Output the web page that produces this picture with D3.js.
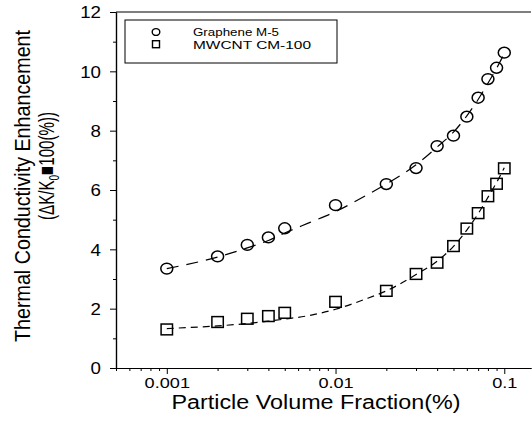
<!DOCTYPE html>
<html>
<head>
<meta charset="utf-8">
<script src="https://cdn.jsdelivr.net/npm/d3@7"></script>
<style>
  body { margin: 0; background: #fff; }
  text { font-family: "Liberation Sans", Arial, sans-serif; fill: #000; }
</style>
</head>
<body>
<svg id="chart" width="532" height="428"></svg>
<script>
// measured points (volume fraction %, enhancement %)
const fractions = [0.001, 0.002, 0.003, 0.004, 0.005, 0.01, 0.02, 0.03, 0.04, 0.05, 0.06, 0.07, 0.08, 0.09, 0.1];
const grapheneValues = [3.35, 3.76, 4.15, 4.40, 4.71, 5.49, 6.20, 6.74, 7.48, 7.83, 8.47, 9.11, 9.74, 10.12, 10.63];
const mwcntValues = [1.30, 1.55, 1.66, 1.75, 1.86, 2.23, 2.60, 3.17, 3.55, 4.11, 4.70, 5.22, 5.79, 6.21, 6.73];

// fitted curves
const fitFractions = [0.001, 0.002, 0.003, 0.004, 0.005, 0.007, 0.01, 0.015, 0.02, 0.03, 0.04, 0.05, 0.06, 0.07, 0.08, 0.09, 0.1];
const grapheneFit = [3.35, 3.74, 4.05, 4.30, 4.55, 4.90, 5.27, 5.80, 6.20, 6.85, 7.45, 7.95, 8.50, 9.05, 9.60, 10.10, 10.60];
const mwcntFit = [1.33, 1.42, 1.50, 1.58, 1.65, 1.77, 1.98, 2.32, 2.60, 3.15, 3.60, 4.10, 4.65, 5.20, 5.75, 6.25, 6.75];

const seriesNames = ["Graphene M-5", "MWCNT CM-100"];
const xMajorTicks = [0.001, 0.01, 0.1];
const xTickLabels = ["0.001", "0.01", "0.1"];
const yMajorTicks = [0, 2, 4, 6, 8, 10, 12];
const yMinorTicks = [1, 3, 5, 7, 9, 11];

const width = 532, height = 428;
const margin = { top: 12, right: 1, bottom: 60, left: 116 };
const sx = 1.17; // the original is a bit wider than tall

const svg = d3.select("#chart");

const x = d3.scaleLog()
  .domain([0.0005, 0.144])
  .range([margin.left, width - margin.right]);

const y = d3.scaleLinear()
  .domain([0, 12])
  .range([height - margin.bottom, margin.top]);

const xMinorTicks = x.ticks().filter(t => !xMajorTicks.some(m => Math.abs(m - t) < 1e-9));

// frame top line
svg.append("line")
  .attr("x1", margin.left).attr("x2", width - margin.right)
  .attr("y1", y(12)).attr("y2", y(12))
  .attr("stroke", "#000").attr("stroke-width", 1.2);

// x axis: minor then major
const xAxisG = svg.append("g").attr("transform", `translate(0,${y(0)})`);
xAxisG.append("g")
  .call(d3.axisBottom(x).tickValues(xMinorTicks).tickSize(3).tickSizeOuter(0).tickFormat(""));
xAxisG.append("g")
  .call(d3.axisBottom(x).tickValues(xMajorTicks).tickSize(6).tickSizeOuter(0)
    .tickFormat((d, i) => xTickLabels[i]));
xAxisG.selectAll("text")
  .attr("y", 0).attr("dy", null)
  .attr("transform", `translate(0,20) scale(${sx},1)`)
  .attr("font-size", 15.5)
  .attr("font-family", null);

// y axis
const yAxisG = svg.append("g").attr("transform", `translate(${margin.left},0)`);
yAxisG.append("g")
  .call(d3.axisLeft(y).tickValues(yMinorTicks).tickSize(3).tickSizeOuter(0).tickFormat(""));
yAxisG.append("g")
  .call(d3.axisLeft(y).tickValues(yMajorTicks).tickSize(6).tickSizeOuter(0).tickFormat(d3.format("d")));
yAxisG.selectAll("text")
  .attr("x", 0).attr("dy", "0.36em")
  .attr("transform", `translate(-15,0) scale(${sx},1)`)
  .attr("font-size", 16)
  .attr("font-family", null);

svg.selectAll(".domain").attr("stroke-width", 1.2);

// fit curves
const fitLine = vals => d3.line()
  .x((d, i) => x(fitFractions[i]))
  .y(d => y(d))
  .curve(d3.curveMonotoneX)(vals);

svg.append("path")
  .attr("d", fitLine(grapheneFit))
  .attr("fill", "none").attr("stroke", "#000").attr("stroke-width", 1.2)
  .attr("stroke-dasharray", "12,8");

svg.append("path")
  .attr("d", fitLine(mwcntFit))
  .attr("fill", "none").attr("stroke", "#000").attr("stroke-width", 1.2)
  .attr("stroke-dasharray", "7,5");

// markers
svg.append("g").selectAll("ellipse")
  .data(grapheneValues)
  .join("ellipse")
  .attr("cx", (d, i) => x(fractions[i]))
  .attr("cy", d => y(d))
  .attr("rx", 6).attr("ry", 5.4)
  .attr("fill", "none").attr("stroke", "#000").attr("stroke-width", 1.5);

svg.append("g").selectAll("rect")
  .data(mwcntValues)
  .join("rect")
  .attr("x", (d, i) => x(fractions[i]) - 5.7)
  .attr("y", d => y(d) - 5.4)
  .attr("width", 11.4).attr("height", 10.8)
  .attr("fill", "none").attr("stroke", "#000").attr("stroke-width", 1.5);

// legend
const legendWidths = [86, 118];
const legend = svg.append("g");
legend.append("rect")
  .attr("x", 125).attr("y", 20).attr("width", 212).attr("height", 43)
  .attr("fill", "none").attr("stroke", "#000").attr("stroke-width", 1);
legend.append("ellipse")
  .attr("cx", 156).attr("cy", 32).attr("rx", 3.8).attr("ry", 3.4)
  .attr("fill", "none").attr("stroke", "#000").attr("stroke-width", 1.4);
legend.append("rect")
  .attr("x", 152.5).attr("y", 40.7).attr("width", 7).attr("height", 7)
  .attr("fill", "none").attr("stroke", "#000").attr("stroke-width", 1.4);
legend.selectAll("text.entry")
  .data(seriesNames)
  .join("text")
  .attr("class", "entry")
  .attr("transform", (d, i) => `translate(193,${36.2 + i * 12.3}) scale(${sx},1)`)
  .attr("font-size", 11.5)
  .attr("textLength", (d, i) => legendWidths[i] / sx)
  .attr("lengthAdjust", "spacingAndGlyphs")
  .text(d => d);

// axis titles
svg.append("text")
  .attr("transform", `translate(316,409) scale(${sx},1)`)
  .attr("text-anchor", "middle")
  .attr("font-size", 19.5)
  .attr("textLength", 289 / sx)
  .attr("lengthAdjust", "spacingAndGlyphs")
  .text("Particle Volume Fraction(%)");

svg.append("text")
  .attr("transform", `translate(29.5,186) scale(${sx},1) rotate(-90)`)
  .attr("text-anchor", "middle")
  .attr("font-size", 19.5)
  .attr("textLength", 312)
  .attr("lengthAdjust", "spacingAndGlyphs")
  .text("Thermal Conductivity Enhancement");

const sub = svg.append("text")
  .attr("transform", `translate(54,166) scale(${sx},1) rotate(-90)`)
  .attr("text-anchor", "middle")
  .attr("font-size", 19.5)
  .attr("textLength", 108)
  .attr("lengthAdjust", "spacingAndGlyphs");
sub.append("tspan").text("(\u0394K/K");
sub.append("tspan").attr("font-size", 13).attr("dy", 4).text("0");
sub.append("tspan").attr("dy", -4).text("\u25A0100(%))");
</script>
</body>
</html>
